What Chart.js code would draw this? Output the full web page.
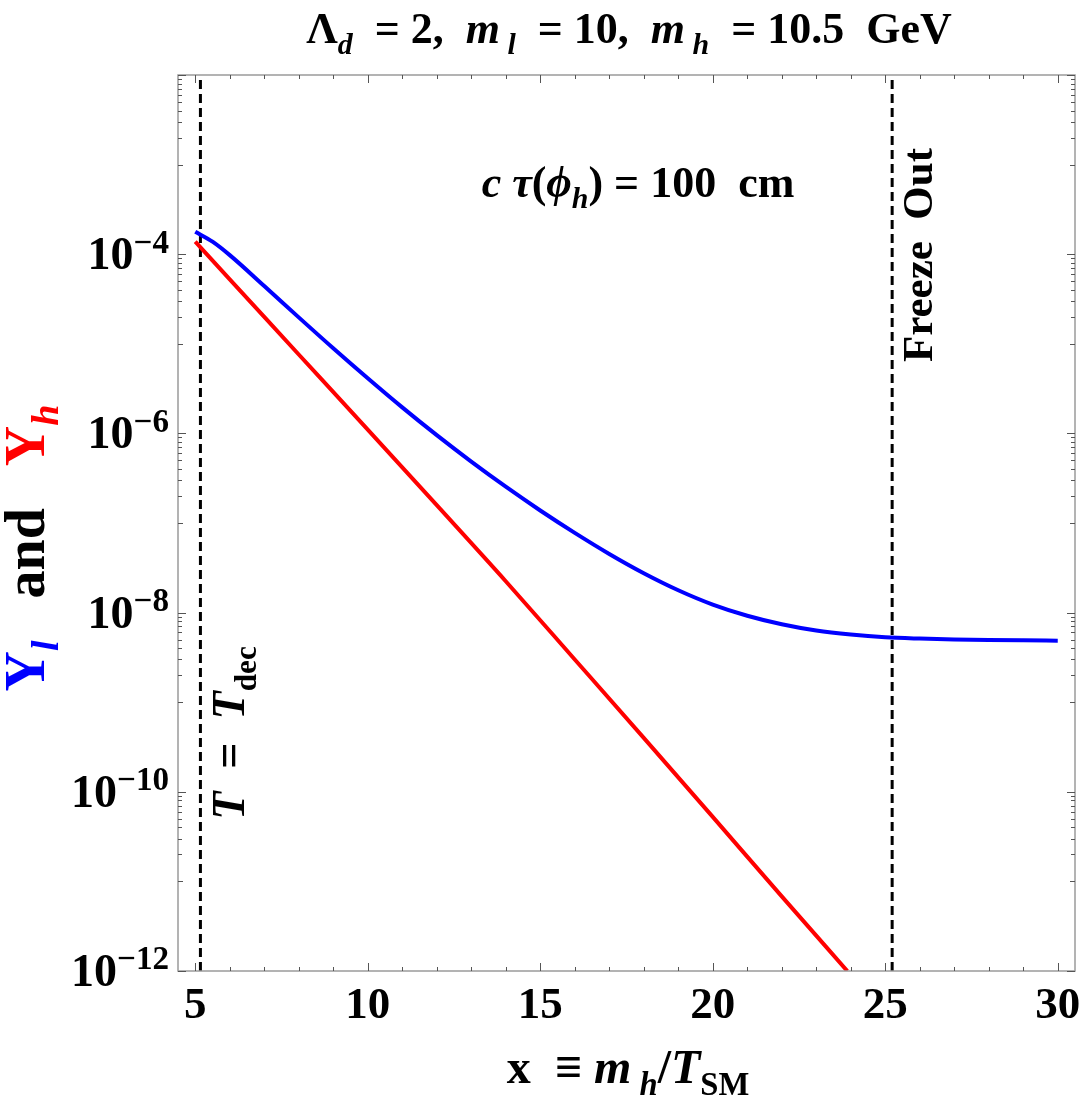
<!DOCTYPE html>
<html>
<head>
<meta charset="utf-8">
<script src="https://cdn.jsdelivr.net/npm/chart.js@4.4.1/dist/chart.umd.min.js"></script>
<style>
  html, body { margin: 0; padding: 0; background: #fff; }
  #wrap { width: 1084px; height: 1095px; }
</style>
</head>
<body>
<div id="wrap"><canvas id="myChart" width="1084" height="1095"></canvas></div>
<script>
// Y_l (blue) and Y_h (red) vs x = m_h / T_SM
var xBlue = [5, 5.5, 6, 7, 8, 9, 10, 11, 12, 13, 14, 15, 16, 17, 18, 19, 20, 21, 22, 23, 24, 25, 26, 27, 28, 29, 30];
var yBlue = [1.778e-4, 1.380e-4, 9.77e-5, 4.416e-5, 1.972e-5, 8.913e-6, 4.121e-6, 1.950e-6, 9.550e-7, 4.842e-7, 2.541e-7, 1.380e-7, 7.762e-8, 4.519e-8, 2.754e-8, 1.778e-8, 1.230e-8, 9.226e-9, 7.413e-9, 6.310e-9, 5.689e-9, 5.309e-9, 5.129e-9, 5.012e-9, 4.943e-9, 4.898e-9, 4.864e-9];

var xRed = [5, 6, 8, 10, 12, 14, 16, 18, 20, 22, 23.9];
var yRed = [1.38e-4, 5.25e-5, 7.6e-6, 1.10e-6, 1.58e-7, 2.24e-8, 3.0e-9, 4.0e-10, 5.25e-11, 6.8e-12, 1.0e-12];

// vertical markers
var xDecoupling = 5.15;
var xFreezeOut = 25.2;

var xTicks = [5, 10, 15, 20, 25, 30];
var yTickExponents = [-12, -10, -8, -6, -4];

var FONT = '"Liberation Serif", "Times New Roman", serif';

function pts(xs, ys) {
    return xs.map(function (x, i) { return { x: x, y: ys[i] }; });
}

// draws a run of text pieces (italic / sub / sup / colour) on one baseline
function drawRich(ctx, parts, x, y, size, align, rotate, supScale) {
    var ss = supScale || 0.68;
    function fontOf(p) {
        var s = (p.sub || p.sup) ? size * ss : size;
        return (p.it ? 'italic ' : '') + 'bold ' + s + 'px ' + FONT;
    }
    var total = 0;
    parts.forEach(function (p) {
        ctx.font = fontOf(p);
        p.w = ctx.measureText(p.t).width;
        total += p.w;
    });
    ctx.save();
    ctx.translate(x, y);
    if (rotate) ctx.rotate(-Math.PI / 2);
    var cx = align === 'center' ? -total / 2 : (align === 'right' ? -total : 0);
    ctx.textBaseline = 'alphabetic';
    ctx.textAlign = 'left';
    parts.forEach(function (p) {
        ctx.font = fontOf(p);
        ctx.fillStyle = p.c || '#000';
        var dy = p.sub ? size * 0.25 : (p.sup ? -size * 0.36 : 0);
        ctx.fillText(p.t, cx, dy);
        cx += p.w;
    });
    ctx.restore();
}

var framePlugin = {
    id: 'frame',
    afterDatasetsDraw: function (chart) {
        var ctx = chart.ctx;
        var a = chart.chartArea;
        var xs = chart.scales.x, ys = chart.scales.y;

        // frame
        ctx.save();
        ctx.strokeStyle = '#9a9a9a';
        ctx.lineWidth = 1.5;
        ctx.strokeRect(a.left, a.top, a.right - a.left, a.bottom - a.top);

        // ticks, drawn inward on all four sides
        ctx.strokeStyle = '#555';
        ctx.lineWidth = 1;
        ctx.beginPath();
        for (var v = 5; v <= 30; v++) {
            var px = Math.round(xs.getPixelForValue(v)) + 0.5;
            var len = v % 5 === 0 ? 8 : 4;
            ctx.moveTo(px, a.bottom); ctx.lineTo(px, a.bottom - len);
            ctx.moveTo(px, a.top); ctx.lineTo(px, a.top + len);
        }
        for (var e = -12; e <= -2; e += 2) {
            var py = Math.round(ys.getPixelForValue(Math.pow(10, e))) + 0.5;
            ctx.moveTo(a.left, py); ctx.lineTo(a.left + 8, py);
            ctx.moveTo(a.right, py); ctx.lineTo(a.right - 8, py);
            if (e === -12) continue;
            for (var m = 1; m <= 9; m++) {
                var val = m * Math.pow(10, e - 1);
                var q = Math.round(ys.getPixelForValue(val)) + 0.5;
                var l2 = m === 1 ? 5 : 4;
                ctx.moveTo(a.left, q); ctx.lineTo(a.left + l2, q);
                ctx.moveTo(a.right, q); ctx.lineTo(a.right - l2, q);
            }
        }
        ctx.stroke();
        ctx.restore();

        // x tick labels
        xTicks.forEach(function (t) {
            drawRich(ctx, [{ t: String(t) }], xs.getPixelForValue(t), 1018, 45, 'center');
        });
        // y tick labels 10^n
        yTickExponents.forEach(function (n) {
            var py = ys.getPixelForValue(Math.pow(10, n));
            drawRich(ctx, [{ t: '10' }, { t: '\u2212' + Math.abs(n), sup: true }], 169, py + 15, 46, 'right', false, 0.72);
        });

        // title
        drawRich(ctx, [
            { t: '\u039B' }, { t: 'd', it: true, sub: true }, { t: '  = 2,  ' },
            { t: 'm', it: true }, { t: ' l', it: true, sub: true }, { t: '  = 10,  ' },
            { t: 'm', it: true }, { t: ' h', it: true, sub: true }, { t: '  = 10.5  GeV' }
        ], 629, 43, 44, 'center');

        // decay length annotation
        drawRich(ctx, [
            { t: 'c ', it: true }, { t: '\u03C4', it: true }, { t: '(' }, { t: '\u03D5', it: true },
            { t: 'h', it: true, sub: true }, { t: ') = 100  cm' }
        ], 638, 197, 44, 'center');

        // x axis title
        drawRich(ctx, [
            { t: 'x  \u2261 ' }, { t: 'm', it: true }, { t: ' h', it: true, sub: true },
            { t: '/' }, { t: 'T', it: true }, { t: 'SM', sub: true }
        ], 628, 1083, 48, 'center');

        // y axis title
        drawRich(ctx, [
            { t: 'Y', c: '#0000ff' }, { t: 'l', it: true, sub: true, c: '#0000ff' },
            { t: '   and   ' },
            { t: 'Y', c: '#ff0000' }, { t: 'h', it: true, sub: true, c: '#ff0000' }
        ], 44, 548, 56, 'center', true);

        // vertical line labels
        drawRich(ctx, [{ t: 'Freeze  Out' }], 932, 255, 43, 'center', true);
        drawRich(ctx, [
            { t: 'T', it: true }, { t: '  =  ' }, { t: 'T', it: true }, { t: 'dec', sub: true }
        ], 244, 733, 46, 'center', true);
    }
};

new Chart(document.getElementById('myChart'), {
    type: 'scatter',
    data: {
        datasets: [{
            label: 'Y_l',
            data: pts(xBlue, yBlue),
            showLine: true,
            borderColor: '#0000ff',
            borderWidth: 4,
            pointRadius: 0,
            cubicInterpolationMode: 'monotone'
        }, {
            label: 'Y_h',
            data: pts(xRed, yRed),
            showLine: true,
            borderColor: '#ff0000',
            borderWidth: 4,
            pointRadius: 0,
            cubicInterpolationMode: 'monotone'
        }, {
            label: 'T = T_dec',
            data: [{ x: xDecoupling, y: 1e-12 }, { x: xDecoupling, y: 1e-2 }],
            showLine: true,
            borderColor: '#000',
            borderWidth: 3,
            borderDash: [9, 5],
            pointRadius: 0
        }, {
            label: 'Freeze Out',
            data: [{ x: xFreezeOut, y: 1e-12 }, { x: xFreezeOut, y: 1e-2 }],
            showLine: true,
            borderColor: '#000',
            borderWidth: 3,
            borderDash: [9, 5],
            pointRadius: 0
        }]
    },
    options: {
        responsive: false,
        animation: false,
        devicePixelRatio: 1,
        layout: { padding: { left: 178, top: 75, right: 9, bottom: 124 } },
        scales: {
            x: { type: 'linear', min: 4.5, max: 30.5, display: false },
            y: { type: 'logarithmic', min: 1e-12, max: 1e-2, display: false }
        },
        plugins: {
            legend: { display: false },
            tooltip: { enabled: false }
        }
    },
    plugins: [framePlugin]
});
</script>
</body>
</html>
